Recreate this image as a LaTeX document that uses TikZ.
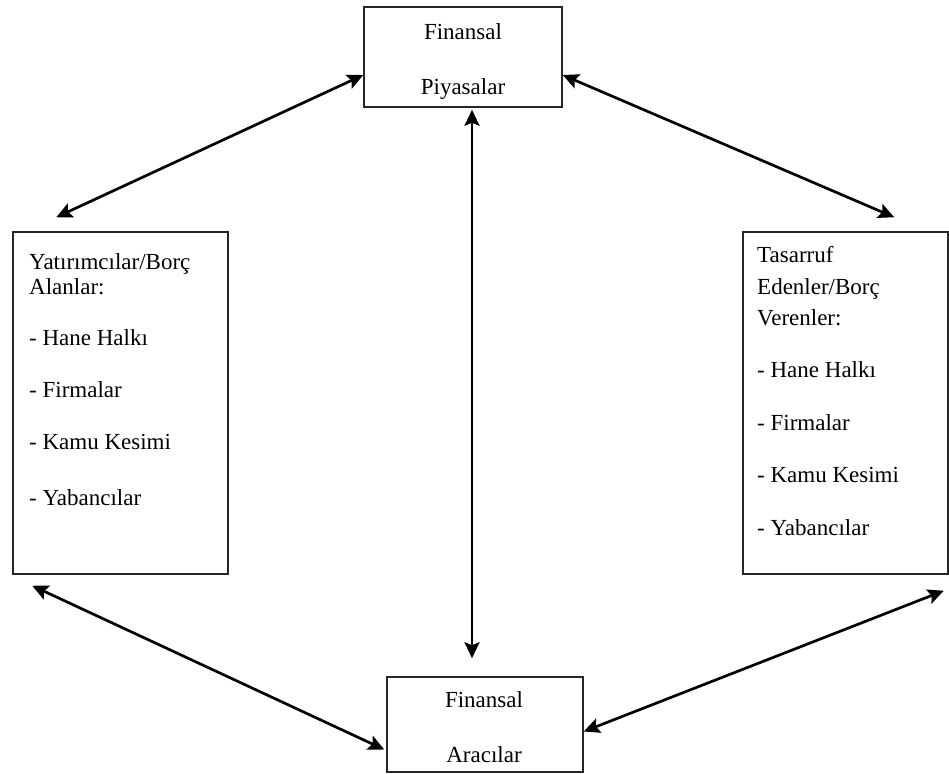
\documentclass[tikz,border=0pt]{standalone}
\usepackage{fontspec}
\setmainfont{Liberation Serif}
\usetikzlibrary{arrows.meta}
\begin{document}
\begin{tikzpicture}[x=1pt,y=-1pt,
  box/.style={draw=black!85, line width=1.5pt, inner sep=0pt, rectangle},
  txt/.style={anchor=base west, inner sep=0pt, font=\fontsize{23}{27}\selectfont, text=black},
  ctxt/.style={anchor=base, inner sep=0pt, font=\fontsize{23}{27}\selectfont, text=black},
  dbl/.style={{Stealth[length=16pt,width=15pt,inset=3pt]}-{Stealth[length=16pt,width=15pt,inset=3pt]}, line width=2.7pt}]
\useasboundingbox (0,0) rectangle (949,773);
\fill[white] (0,0) rectangle (949,773);
% boxes
\node[box, minimum width=198pt, minimum height=100pt] (fp) at (463,57) {};
\node[box, minimum width=215pt, minimum height=342pt] (ll) at (120.5,403) {};
\node[box, minimum width=205pt, minimum height=342pt] (rr) at (845.5,403) {};
\node[box, minimum width=196pt, minimum height=95pt] (fa) at (485,724.5) {};
% texts top
\node[ctxt] (fp1) at (463,40) {Finansal};
\node[ctxt] (fp2) at (463,95) {Piyasalar};
% bottom
\node[ctxt] (fa1) at (484,707) {Finansal};
\node[ctxt] (fa2) at (484,762) {Aracılar};
% left
\node[txt] (l1) at (29,269) {Yatırımcılar/Borç};
\node[txt] (l2) at (29,294) {Alanlar:};
\node[txt] (l3) at (29,345) {- Hane Halkı};
\node[txt] (l4) at (29,397) {- Firmalar};
\node[txt] (l5) at (29,449) {- Kamu Kesimi};
\node[txt] (l6) at (29,505) {- Yabancılar};
% right
\node[txt] (r1) at (757,262) {Tasarruf};
\node[txt] (r2) at (757,294) {Edenler/Borç};
\node[txt] (r3) at (757,325) {Verenler:};
\node[txt] (r4) at (757,377) {- Hane Halkı};
\node[txt] (r5) at (757,430) {- Firmalar};
\node[txt] (r6) at (757,482) {- Kamu Kesimi};
\node[txt] (r7) at (757,535) {- Yabancılar};
% connectors
\draw[dbl] ([yshift=-18pt]fp.west) -- ([xshift=44pt,yshift=14pt]ll.north west);
\draw[dbl] ([yshift=-18pt]fp.east) -- ([xshift=152pt,yshift=14pt]rr.north west);
\draw[dbl] ([xshift=9pt,yshift=-2pt]fp.south) -- ([xshift=-13pt,yshift=18pt]fa.north);
\draw[dbl] ([xshift=20pt,yshift=-11pt]ll.south west) -- ([xshift=-2pt,yshift=-25pt]fa.west);
\draw[dbl] ([yshift=-7pt]fa.east) -- ([xshift=-5pt,yshift=-16pt]rr.south east);
\end{tikzpicture}
\end{document}
